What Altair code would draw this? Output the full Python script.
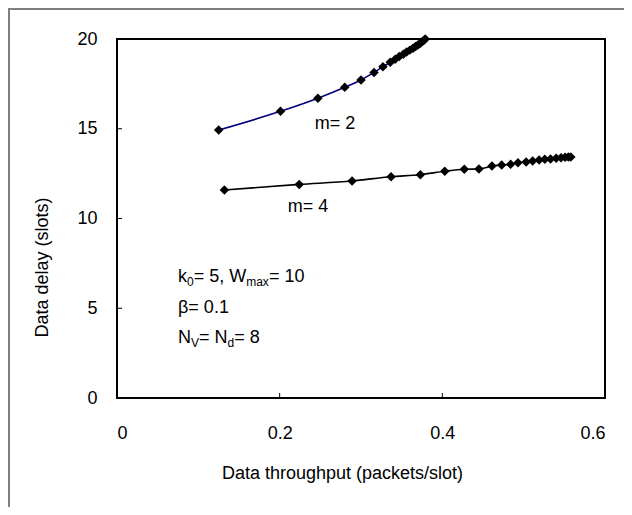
import altair as alt
import pandas as pd

# ---- data ----
m2_x = [0.125, 0.201, 0.247, 0.280, 0.300, 0.316, 0.327, 0.336, 0.342, 0.347,
        0.352, 0.356, 0.360, 0.364, 0.367, 0.370, 0.373, 0.375, 0.377, 0.379]
m2_y = [14.93, 15.97, 16.70, 17.31, 17.72, 18.14, 18.46, 18.70, 18.87, 19.02,
        19.15, 19.27, 19.38, 19.49, 19.58, 19.67, 19.76, 19.84, 19.92, 20.0]
m4_x = [0.132, 0.224, 0.289, 0.337, 0.373, 0.403, 0.427, 0.445, 0.461, 0.473,
        0.484, 0.493, 0.503, 0.511, 0.519, 0.526, 0.533, 0.540, 0.546, 0.551,
        0.555, 0.558]
m4_y = [11.59, 11.90, 12.09, 12.33, 12.44, 12.63, 12.74, 12.76, 12.92, 12.98,
        13.02, 13.11, 13.15, 13.20, 13.26, 13.30, 13.31, 13.35, 13.39, 13.41,
        13.42, 13.42]
series_names = ["m= 2", "m= 4"]
series_colors = ["#000080", "#000000"]
x_tick_values = [0, 0.2, 0.4, 0.6]
y_tick_values = [0, 5, 10, 15, 20]
x_inner_ticks = [0.2, 0.4]
y_inner_ticks = [5, 10, 15]

# series labels: text, x, y
label_text = ["m= 2", "m= 4"]
label_x = [0.268, 0.235]
label_y = [15.26, 10.64]

# parameter note (pieces: text, row, dx, is_subscript)
note_x = 0.075
note_rows_y = [6.49, 4.71, 3.04]
note_pieces = [
    ("k", 0, 0.0, False), ("0", 0, 9.0, True), ("= 5, W", 0, 15.7, False),
    ("max", 0, 68.2, True), ("= 10", 0, 90.9, False),
    ("\u03b2= 0.1", 1, 0.0, False),
    ("N", 2, 0.0, False), ("V", 2, 13.0, True), ("= N", 2, 21.0, False),
    ("d", 2, 49.5, True), ("= 8", 2, 56.2, False),
]

FONT = "Liberation Sans"
W, H = 488, 359

df = pd.concat([
    pd.DataFrame({"x": m2_x, "y": m2_y, "series": series_names[0]}),
    pd.DataFrame({"x": m4_x, "y": m4_y, "series": series_names[1]}),
], ignore_index=True)

xs = alt.Scale(domain=[0, 0.6], nice=False, zero=False)
ys = alt.Scale(domain=[0, 20], nice=False, zero=False)

x_axis = alt.Axis(values=x_tick_values, format=".1~f", title="Data throughput (packets/slot)",
                  labelPadding=26, labelBaseline="top",
                  titleX=225, titleY=75, titleAlign="center", titleBaseline="middle")
y_axis = alt.Axis(values=y_tick_values, title="Data delay (slots)", labelPadding=20,
                  titleAngle=270, titleX=-75, titleY=228, titleAlign="center",
                  titleBaseline="middle")


def X(field="x"):
    return alt.X(f"{field}:Q", scale=xs, axis=x_axis)


def Y(field="y"):
    return alt.Y(f"{field}:Q", scale=ys, axis=y_axis)


base = alt.Chart(df)
lines = base.mark_line(interpolate="monotone", strokeWidth=1.6).encode(
    x=X(), y=Y(),
    color=alt.Color("series:N", scale=alt.Scale(domain=series_names, range=series_colors), legend=None),
    detail="series:N",
)
points = base.mark_point(shape="diamond", filled=True, size=90, color="black", opacity=1).encode(
    x=X(), y=Y())

xt = alt.Chart(pd.DataFrame({"x": x_inner_ticks})).mark_rule(color="black", strokeWidth=1).encode(
    x=X(), y=alt.value(H), y2=alt.value(H - 5))
yt = alt.Chart(pd.DataFrame({"y": y_inner_ticks})).mark_rule(color="black", strokeWidth=1).encode(
    y=Y(), x=alt.value(0), x2=alt.value(5))

lab = alt.Chart(pd.DataFrame({"t": label_text, "x": label_x, "y": label_y})).mark_text(
    align="center", baseline="middle", fontSize=18, font=FONT, color="black").encode(
    x=X(), y=Y(), text="t:N")

note_layers = []
for text, row, dx, sub in note_pieces:
    note_layers.append(
        alt.Chart(pd.DataFrame({"t": [text], "x": [note_x], "y": [note_rows_y[row]]})).mark_text(
            align="left", baseline="alphabetic", dx=dx, dy=4 if sub else 0,
            fontSize=12 if sub else 18, font=FONT, color="black").encode(
            x=X(), y=Y(), text="t:N")
    )

frame_left = alt.Chart(pd.DataFrame({"a": [0]})).mark_rule(color="#7f7f7f", strokeWidth=2).encode(
    x=alt.value(-108), y=alt.value(-31), y2=alt.value(H + 109))
frame_top = alt.Chart(pd.DataFrame({"a": [0]})).mark_rule(color="#7f7f7f", strokeWidth=2).encode(
    x=alt.value(-109), x2=alt.value(W + 19), y=alt.value(-30))

chart = alt.layer(lines, points, xt, yt, lab, *note_layers, frame_left, frame_top).properties(
    width=W, height=H,
    autosize=alt.AutoSizeParams(type="none"),
    padding={"left": 109, "top": 31, "right": 19, "bottom": 109},
    background="white",
).configure_view(stroke="black", strokeWidth=2).configure_axis(
    labelFont=FONT, titleFont=FONT, labelFontSize=18, titleFontSize=18,
    titleFontWeight="normal", labelColor="black", titleColor="black",
    grid=False, domain=False, ticks=False,
)

chart.save("out.html", embed_options={"renderer": "svg", "actions": False})
